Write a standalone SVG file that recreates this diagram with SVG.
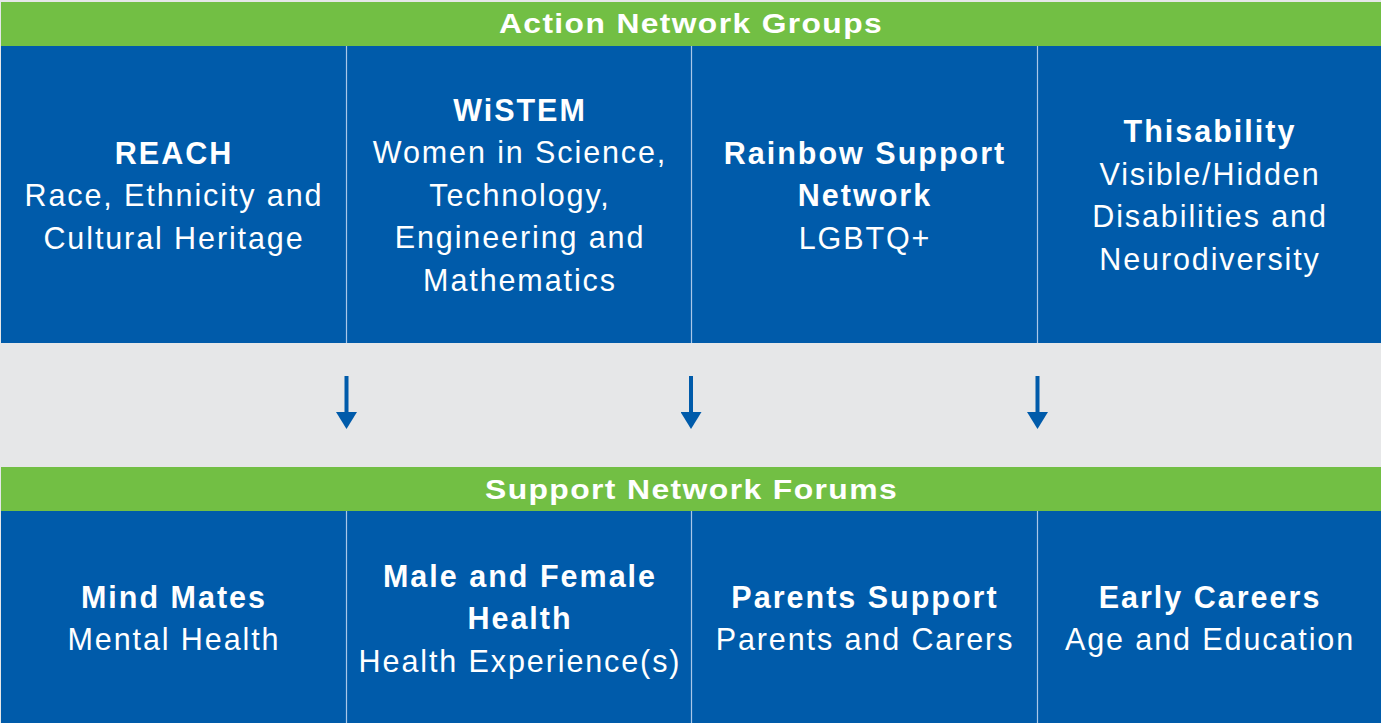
<svg xmlns="http://www.w3.org/2000/svg" width="1381" height="723" viewBox="0 0 1381 723">
  <style>
    .bar { fill: #72BF44; }
    .panel { fill: #005BAA; }
    .gap { fill: #E6E7E8; }
    .div { stroke: #A9C7E8; stroke-width: 1.2; }
    text { font-family: "Liberation Sans", Arial, sans-serif; fill: #FFFFFF; text-anchor: middle; }
    .hdr { font-size: 27.5px; font-weight: bold; letter-spacing: 1.2px; }
    .t { font-size: 30.5px; font-weight: bold; letter-spacing: 2px; }
    .s { font-size: 30.5px; letter-spacing: 1.9px; }
    .arrow { stroke: #005BAA; stroke-width: 4; fill: none; }
  </style>
  <defs>
    <marker id="head" viewBox="0 0 17 21" refX="2" refY="10.5" markerWidth="17" markerHeight="21" markerUnits="userSpaceOnUse" orient="auto">
      <path d="M0,0 L17,10.5 L0,21 Z" fill="#005BAA"/>
    </marker>
  </defs>

  <!-- background -->
  <rect x="0" y="0" width="1381" height="723" class="gap"/>

  <!-- upper section: Action Network Groups -->
  <rect x="1" y="2" width="1380" height="44" class="bar"/>
  <text class="hdr" x="691" y="33" textLength="384" lengthAdjust="spacingAndGlyphs">Action Network Groups</text>
  <rect x="1" y="46" width="1380" height="297" class="panel"/>

  <g id="reach">
    <text class="t" x="174" y="164">REACH</text>
    <text class="s" x="174" y="206">Race, Ethnicity and</text>
    <text class="s" x="174" y="249">Cultural Heritage</text>
  </g>
  <g id="wistem">
    <text class="t" x="520" y="121">WiSTEM</text>
    <text class="s" x="520" y="163">Women in Science,</text>
    <text class="s" x="520" y="206">Technology,</text>
    <text class="s" x="520" y="248">Engineering and</text>
    <text class="s" x="520" y="291">Mathematics</text>
  </g>
  <g id="rainbow">
    <text class="t" x="865" y="164">Rainbow Support</text>
    <text class="t" x="865" y="206">Network</text>
    <text class="s" x="865" y="249">LGBTQ+</text>
  </g>
  <g id="thisability">
    <text class="t" x="1210" y="142">Thisability</text>
    <text class="s" x="1210" y="185">Visible/Hidden</text>
    <text class="s" x="1210" y="227">Disabilities and</text>
    <text class="s" x="1210" y="270">Neurodiversity</text>
  </g>

  <!-- lower section: Support Network Forums -->
  <rect x="1" y="467" width="1380" height="44" class="bar"/>
  <text class="hdr" x="691.5" y="499" textLength="413" lengthAdjust="spacingAndGlyphs">Support Network Forums</text>
  <rect x="1" y="511" width="1380" height="212" class="panel"/>

  <g id="mind-mates">
    <text class="t" x="174" y="608">Mind Mates</text>
    <text class="s" x="174" y="650">Mental Health</text>
  </g>
  <g id="male-female-health">
    <text class="t" x="520" y="587">Male and Female</text>
    <text class="t" x="520" y="629">Health</text>
    <text class="s" x="520" y="672">Health Experience(s)</text>
  </g>
  <g id="parents-support">
    <text class="t" x="865" y="608">Parents Support</text>
    <text class="s" x="865" y="650">Parents and Carers</text>
  </g>
  <g id="early-careers">
    <text class="t" x="1210" y="608">Early Careers</text>
    <text class="s" x="1210" y="650">Age and Education</text>
  </g>

  <!-- column dividers -->
  <g id="dividers">
    <line class="div" x1="346.5" y1="46" x2="346.5" y2="343"/>
    <line class="div" x1="691.5" y1="46" x2="691.5" y2="343"/>
    <line class="div" x1="1037.5" y1="46" x2="1037.5" y2="343"/>
    <line class="div" x1="346.5" y1="511" x2="346.5" y2="723"/>
    <line class="div" x1="691.5" y1="511" x2="691.5" y2="723"/>
    <line class="div" x1="1037.5" y1="511" x2="1037.5" y2="723"/>
  </g>

  <!-- connectors -->
  <g id="connectors">
    <line class="arrow" x1="346.5" y1="376" x2="346.5" y2="414" marker-end="url(#head)"/>
    <line class="arrow" x1="691" y1="376" x2="691" y2="414" marker-end="url(#head)"/>
    <line class="arrow" x1="1037.5" y1="376" x2="1037.5" y2="414" marker-end="url(#head)"/>
  </g>
</svg>
